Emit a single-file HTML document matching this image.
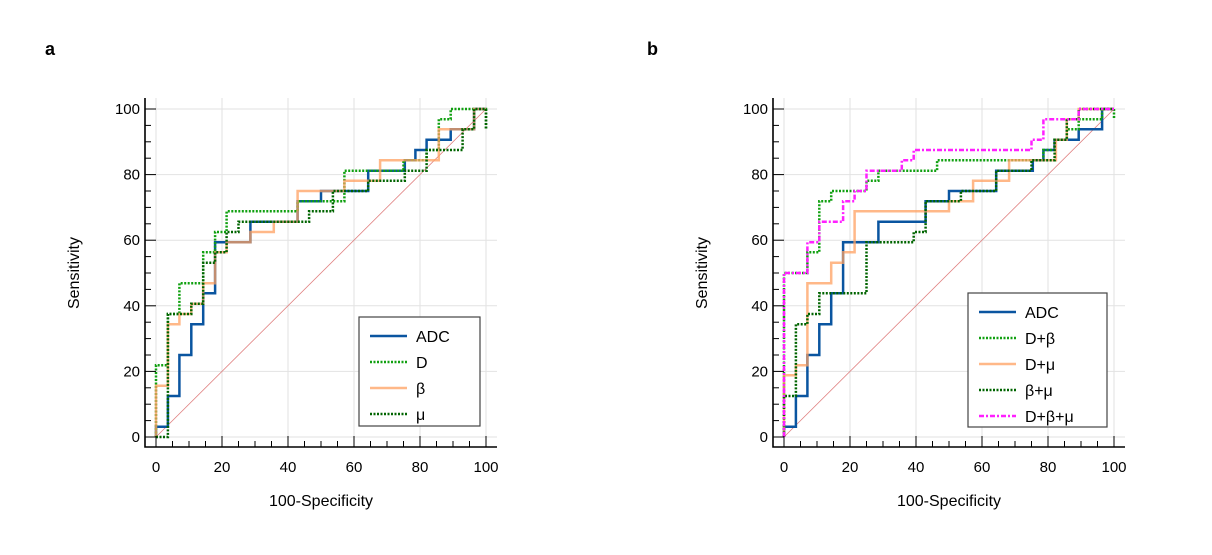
<!DOCTYPE html>
<html><head><meta charset="utf-8"><style>
body{margin:0;background:#fff;width:1212px;height:550px;overflow:hidden}
svg text{font-family:"Liberation Sans",sans-serif}
</style></head><body>
<svg id="c" width="1212" height="550" xmlns="http://www.w3.org/2000/svg"></svg>
<script>
const xTicks=[0,20,40,60,80,100];
const yTicks=[0,20,40,60,80,100];
const adcX=[0,0,3.6,3.6,7.1,7.1,10.7,10.7,14.3,14.3,17.9,17.9,28.6,28.6,42.9,42.9,50,50,64.3,64.3,75.4,75.4,78.6,78.6,82,82,89.3,89.3,96.4,96.4,100];
const adcY=[0,3.1,3.1,12.5,12.5,25,25,34.4,34.4,43.8,43.8,59.4,59.4,65.6,65.6,71.9,71.9,75,75,81.2,81.2,84.4,84.4,87.5,87.5,90.6,90.6,93.8,93.8,100,100];
const dX=[0,0,3.6,3.6,7.1,7.1,14.3,14.3,17.9,17.9,21.4,21.4,42.9,42.9,57.1,57.1,75,75,82,82,85.7,85.7,89.3,89.3,100,100];
const dY=[0,21.9,21.9,37.5,37.5,46.9,46.9,56.3,56.3,62.5,62.5,68.8,68.8,71.9,71.9,81.2,81.2,84.4,84.4,87.5,87.5,96.9,96.9,100,100,93.8];
const bX=[0,0,3.6,3.6,7.1,7.1,10.7,10.7,14.3,14.3,17.9,17.9,21.4,21.4,28.6,28.6,35.7,35.7,42.9,42.9,57.1,57.1,67.9,67.9,85.7,85.7,96.4,96.4,100];
const bY=[0,15.6,15.6,34.4,34.4,37.5,37.5,40.6,40.6,46.9,46.9,56.3,56.3,59.4,59.4,62.5,62.5,65.6,65.6,75,75,78.1,78.1,84.4,84.4,93.8,93.8,100,100];
const mX=[0,3.6,3.6,10.7,10.7,14.3,14.3,17.9,17.9,21.4,21.4,25,25,46.4,46.4,53.6,53.6,64.3,64.3,75.4,75.4,82,82,92.9,92.9,96.4,96.4,100,100];
const mY=[0,0,37.5,37.5,40.6,40.6,53.1,53.1,56.3,56.3,62.5,62.5,65.6,65.6,68.8,68.8,75,75,78.1,78.1,81.2,81.2,87.5,87.5,93.8,93.8,100,100,93.8];
const dbX=[0,0,7.1,7.1,10.7,10.7,14.3,14.3,25,25,28.6,28.6,46.4,46.4,78.6,78.6,82,82,85.7,85.7,89.3,89.3,96.4,96.4,100,100];
const dbY=[0,50,50,56.3,56.3,71.9,71.9,75,75,78.1,78.1,81.2,81.2,84.4,84.4,87.5,87.5,90.6,90.6,93.8,93.8,96.9,96.9,100,100,96.9];
const dmX=[0,0,3.6,3.6,7.1,7.1,14.3,14.3,17.9,17.9,21.4,21.4,50,50,57.3,57.3,68.2,68.2,82.4,82.4,85.7,85.7,89.3,89.3,100];
const dmY=[0,18.8,18.8,21.9,21.9,46.9,46.9,53.1,53.1,56.3,56.3,68.8,68.8,71.9,71.9,78.1,78.1,84.4,84.4,90.6,90.6,96.9,96.9,100,100];
const bmX=[0,0,3.6,3.6,7.1,7.1,10.7,10.7,25,25,39.3,39.3,42.9,42.9,53.6,53.6,64.3,64.3,75,75,82,82,85.7,85.7,89.3,89.3,100];
const bmY=[0,12.5,12.5,34.4,34.4,37.5,37.5,43.8,43.8,59.4,59.4,62.5,62.5,71.9,71.9,75,75,81.2,81.2,84.4,84.4,90.6,90.6,96.9,96.9,100,100];
const dbmX=[0,0,7.1,7.1,10.7,10.7,17.9,17.9,21.4,21.4,25,25,35.7,35.7,39.3,39.3,75,75,78.6,78.6,89.3,89.3,100];
const dbmY=[0,50,50,59.4,59.4,65.6,65.6,71.9,71.9,75,75,81.2,81.2,84.4,84.4,87.5,87.5,90.6,90.6,96.9,96.9,100,100];

const NS="http://www.w3.org/2000/svg";
const svg=document.getElementById('c');
function mk(tag,attrs,parent){const e=document.createElementNS(NS,tag);for(const k in attrs)e.setAttribute(k,attrs[k]);(parent||svg).appendChild(e);return e;}
const styles={
 adc:{stroke:'#0a55a0',w:2.5,dash:'',op:1},
 d:{stroke:'#10a010',w:2.5,dash:'2,1.5',op:1},
 b:{stroke:'#ffa060',w:2.5,dash:'',op:0.75},
 m:{stroke:'#006400',w:2.5,dash:'2,1.5',op:1},
 dbm:{stroke:'#ff20ff',w:2.5,dash:'5,2,2,2',op:1}
};
function panel(ox,letter,letterX,series,leg){
  const x0=ox+11,x1=ox+341,yB=437,yT=109,L=ox,R=ox+352,T=98,B=447;
  const sx=v=>x0+(x1-x0)*v/100, sy=v=>yB-(yB-yT)*v/100;
  const g=mk('g',{});
  
  
  const lt=mk('text',{x:letterX,y:55,'font-size':18,'font-weight':'bold'},g);lt.textContent=letter;
  
  
  xTicks.forEach(v=>{
    const gl=mk('line',{x1:sx(v),x2:sx(v),y1:T,y2:B,stroke:'#e2e2e2','stroke-width':1},g);
    
    
  });
  yTicks.forEach(v=>{
    const gl=mk('line',{x1:L,x2:R,y1:sy(v),y2:sy(v),stroke:'#e2e2e2','stroke-width':1},g);
    
    
  });
  const dg=mk('line',{x1:sx(0),y1:sy(0),x2:sx(100),y2:sy(100),stroke:'#e08080','stroke-width':0.8},g);
  
  
  series.forEach(s=>{
    const st=styles[s.key];
    const pts=s.x.map((v,i)=>sx(v).toFixed(1)+','+sy(s.y[i]).toFixed(1)).join(' ');
    const p=mk('polyline',{points:pts,fill:'none',stroke:st.stroke,'stroke-width':st.w,'stroke-dasharray':st.dash,'stroke-opacity':st.op},g);
    
    
  });
  const ax=mk('path',{d:`M${L},${T} V${B} H${R}`,fill:'none',stroke:'#000','stroke-width':1.6},g);
  
  
  for(let v=0;v<=100;v+=5){
    const maj=v%20===0,len=maj?11:6;
    mk('line',{x1:sx(v),x2:sx(v),y1:B,y2:B-len,stroke:'#000','stroke-width':1},g);
    mk('line',{x1:L,x2:L+len,y1:sy(v),y2:sy(v),stroke:'#000','stroke-width':1},g);
  }
  xTicks.forEach(v=>{
    const t=mk('text',{x:sx(v),y:472,'font-size':15,'text-anchor':'middle'},g);t.textContent=v;
    
    
  });
  yTicks.forEach(v=>{
    const t=mk('text',{x:L-5,y:sy(v)+5,'font-size':15,'text-anchor':'end'},g);t.textContent=v;
    
    
  });
  const xt=mk('text',{x:ox+176,y:506,'font-size':16,'text-anchor':'middle'},g);xt.textContent='100-Specificity';
  
  
  const yt=mk('text',{x:0,y:0,'font-size':16,'text-anchor':'middle',transform:`translate(${ox-66},273) rotate(-90)`},g);yt.textContent='Sensitivity';
  
  
  const lg=mk('g',{},g);
  
  
  mk('rect',{x:leg.x,y:leg.y,width:leg.w,height:leg.h,fill:'#fff',stroke:'#444','stroke-width':1.2},lg);
  series.forEach((s,i)=>{
    const st=styles[s.key];const yy=leg.y+19+i*26;
    const ln=mk('line',{x1:leg.x+11,x2:leg.x+48,y1:yy,y2:yy,stroke:st.stroke,'stroke-width':st.w,'stroke-dasharray':st.dash,'stroke-opacity':st.op},lg);
    
    
    const t=mk('text',{x:leg.x+57,y:yy+6,'font-size':16},lg);t.textContent=s.label;
    
    
  });
}
panel(145,'a',45,[
 {key:'adc',name:'adc',label:'ADC',x:adcX,y:adcY},
 {key:'d',name:'d',label:'D',x:dX,y:dY},
 {key:'b',name:'beta',label:'β',x:bX,y:bY},
 {key:'m',name:'mu',label:'μ',x:mX,y:mY}
],{x:359,y:317,w:121,h:109});
panel(773,'b',647,[
 {key:'adc',name:'adc',label:'ADC',x:adcX,y:adcY},
 {key:'d',name:'d-beta',label:'D+β',x:dbX,y:dbY},
 {key:'b',name:'d-mu',label:'D+μ',x:dmX,y:dmY},
 {key:'m',name:'beta-mu',label:'β+μ',x:bmX,y:bmY},
 {key:'dbm',name:'d-beta-mu',label:'D+β+μ',x:dbmX,y:dbmY}
],{x:968,y:293,w:139,h:134});
</script>
</body></html>
